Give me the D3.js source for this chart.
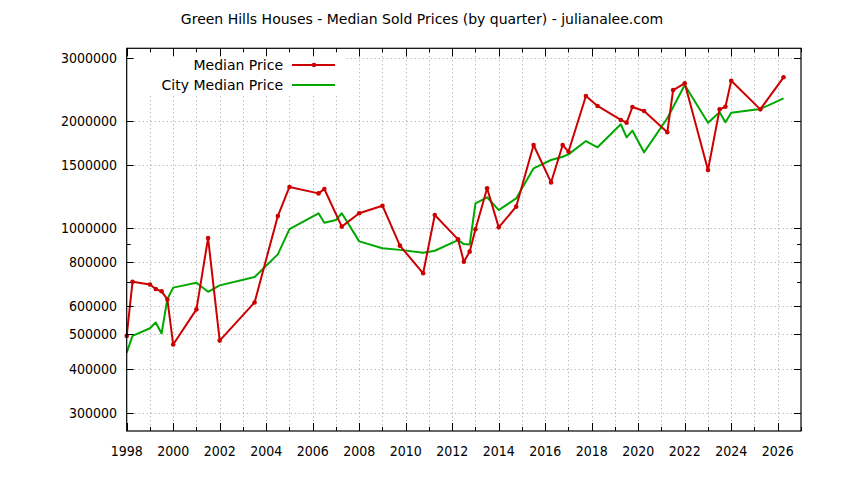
<!DOCTYPE html>
<html>
<head>
<meta charset="utf-8">
<script src="https://cdn.jsdelivr.net/npm/d3@7"></script>
<style>
  body { margin: 0; background: #fff; }
  svg { display: block; font-family: "DejaVu Sans", sans-serif; }
</style>
</head>
<body>
<svg id="chart" width="844" height="480"></svg>
<script>
  var titleText = 'Green Hills Houses - Median Sold Prices (by quarter) - julianalee.com';
  var seriesNames = ['Median Price', 'City Median Price'];

  // quarters as fractional years
  var redDates = [1998, 1998.25, 1999, 1999.25, 1999.5, 1999.75, 2000, 2001, 2001.5, 2002,
    2003.5, 2004.5, 2005, 2006.25, 2006.5, 2007.25, 2008, 2009, 2009.75, 2010.75, 2011.25,
    2012.25, 2012.5, 2012.75, 2013, 2013.5, 2014, 2014.75, 2015.5, 2016.25, 2016.75, 2017,
    2017.75, 2018.25, 2019.25, 2019.5, 2019.75, 2020.25, 2021.25, 2021.5, 2022, 2023,
    2023.5, 2023.75, 2024, 2025.25, 2026.25];
  var redValues = [495000, 703000, 691000, 671000, 661000, 627000, 468000, 588000, 934000, 480000,
    615000, 1077000, 1301000, 1248000, 1284000, 1006000, 1097000, 1152000, 889000, 743000, 1085000,
    926000, 801000, 855000, 989000, 1290000, 1001000, 1145000, 1708000, 1340000, 1708000, 1636000,
    2348000, 2201000, 2010000, 1975000, 2186000, 2130000, 1855000, 2441000, 2550000, 1452000,
    2153000, 2190000, 2593000, 2153000, 2651000];

  var greenDates = [1998, 1998.25, 1999, 1999.25, 1999.5, 1999.75, 2000, 2001, 2001.5, 2002,
    2003.5, 2004.5, 2005, 2006.25, 2006.5, 2007, 2007.25, 2008, 2009, 2009.75, 2010.75, 2011.25,
    2012.25, 2012.5, 2012.75, 2013, 2013.5, 2014, 2014.75, 2015.5, 2016.25, 2016.75, 2017,
    2017.75, 2018.25, 2019.25, 2019.5, 2019.75, 2020.25, 2021.25, 2022, 2023, 2023.5, 2023.75,
    2024, 2025.25, 2026.25];
  var greenValues = [444000, 495000, 520000, 540000, 503000, 629000, 677000, 699000, 659000, 687000,
    725000, 840000, 990000, 1097000, 1032000, 1050000, 1097000, 914000, 874000, 865000, 849000, 860000,
    922000, 898000, 895000, 1170000, 1217000, 1120000, 1208000, 1468000, 1550000, 1583000, 1608000,
    1753000, 1683000, 1955000, 1796000, 1875000, 1629000, 2032000, 2521000, 1975000, 2112000, 1980000,
    2107000, 2158000, 2312000];

  var yTickValues = [300000, 400000, 500000, 600000, 800000, 1000000, 1500000, 2000000, 3000000];
  var yMinorValues = [700000, 900000];
  var xLabelYears = [1998, 2000, 2002, 2004, 2006, 2008, 2010, 2012, 2014, 2016, 2018, 2020, 2022, 2024, 2026];

  (function() {
    var svg = d3.select('#chart');
    var left = 126.7, right = 801, top = 48.3, bottom = 431;
    var red = '#cc0000', green = '#00a800', gridColor = '#a0a0a0';

    var x = d3.scaleLinear().domain([1998, 2027]).range([left, right]);
    var y = d3.scaleLog().domain([267000, 3200000]).range([bottom, top]);

    var allYears = d3.range(1998, 2028);
    var redData = redDates.map(function(d, i) { return { t: d, v: redValues[i] }; });
    var greenData = greenDates.map(function(d, i) { return { t: d, v: greenValues[i] }; });

    // title
    svg.append('text')
      .attr('x', 422).attr('y', 24)
      .attr('text-anchor', 'middle')
      .attr('font-size', 14).attr('fill', '#000')
      .text(titleText);

    // grid
    var grid = svg.append('g').attr('stroke', gridColor).attr('stroke-width', 1)
      .attr('stroke-dasharray', '1,3');
    grid.selectAll('line.gx').data(allYears.slice(1, -1)).enter().append('line')
      .attr('x1', function(d) { return Math.round(x(d)) + 0.5; })
      .attr('x2', function(d) { return Math.round(x(d)) + 0.5; })
      .attr('y1', top).attr('y2', bottom);
    grid.selectAll('line.gy').data(yTickValues).enter().append('line')
      .attr('y1', function(d) { return Math.round(y(d)) + 0.5; })
      .attr('y2', function(d) { return Math.round(y(d)) + 0.5; })
      .attr('x1', left).attr('x2', right);

    // opaque key box
    svg.append('rect').attr('x', left + 1).attr('y', top + 1)
      .attr('width', 218).attr('height', 46).attr('fill', '#fff');

    // series
    var line = d3.line().x(function(d) { return x(d.t); }).y(function(d) { return y(d.v); });
    svg.append('path').datum(greenData).attr('d', line)
      .attr('fill', 'none').attr('stroke', green).attr('stroke-width', 2).attr('stroke-linejoin', 'round');
    svg.append('path').datum(redData).attr('d', line)
      .attr('fill', 'none').attr('stroke', red).attr('stroke-width', 2).attr('stroke-linejoin', 'round');
    svg.selectAll('circle.pt').data(redData).enter().append('circle')
      .attr('cx', function(d) { return x(d.t); })
      .attr('cy', function(d) { return y(d.v); })
      .attr('r', 2.3).attr('fill', red);

    // axes, gnuplot style: inward ticks on all four sides
    var xBottom = d3.axisBottom(x).tickValues(allYears).tickSize(0).tickFormat('');
    var ax = svg.append('g');
    ax.selectAll('line.xt').data(allYears).enter().append('line')
      .attr('x1', function(d) { return Math.round(x(d)) + 0.5; })
      .attr('x2', function(d) { return Math.round(x(d)) + 0.5; })
      .attr('y1', bottom)
      .attr('y2', function(d) { return bottom - (d % 2 === 0 ? 8 : 4); })
      .attr('stroke', '#000');
    ax.selectAll('line.xtt').data(allYears).enter().append('line')
      .attr('x1', function(d) { return Math.round(x(d)) + 0.5; })
      .attr('x2', function(d) { return Math.round(x(d)) + 0.5; })
      .attr('y1', top)
      .attr('y2', function(d) { return top + (d % 2 === 0 ? 8 : 4); })
      .attr('stroke', '#000');

    var yTicks = yTickValues.map(function(v) { return { v: v, len: 7 }; })
      .concat(yMinorValues.map(function(v) { return { v: v, len: 4 }; }));
    ax.selectAll('line.yt').data(yTicks).enter().append('line')
      .attr('y1', function(d) { return Math.round(y(d.v)) + 0.5; })
      .attr('y2', function(d) { return Math.round(y(d.v)) + 0.5; })
      .attr('x1', left).attr('x2', function(d) { return left + d.len; })
      .attr('stroke', '#000');
    ax.selectAll('line.ytr').data(yTicks).enter().append('line')
      .attr('y1', function(d) { return Math.round(y(d.v)) + 0.5; })
      .attr('y2', function(d) { return Math.round(y(d.v)) + 0.5; })
      .attr('x1', right).attr('x2', function(d) { return right - d.len; })
      .attr('stroke', '#000');

    svg.append('rect').attr('x', left).attr('y', top)
      .attr('width', right - left).attr('height', bottom - top)
      .attr('fill', 'none').attr('stroke', '#000').attr('stroke-width', 1.2);

    // tick labels
    svg.append('g').attr('transform', 'translate(0,' + bottom + ')').call(xBottom).select('.domain').remove();
    svg.selectAll('text.xl').data(xLabelYears).enter().append('text')
      .attr('x', function(d) { return x(d); }).attr('y', 456)
      .attr('text-anchor', 'middle').attr('font-size', 14)
      .attr('font-family', '"DejaVu Sans Condensed", "DejaVu Sans", sans-serif')
      .text(function(d) { return d; });
    svg.selectAll('text.yl').data(yTickValues).enter().append('text')
      .attr('x', 117).attr('y', function(d) { return y(d); })
      .attr('dy', '0.36em')
      .attr('text-anchor', 'end').attr('font-size', 14)
      .attr('font-family', '"DejaVu Sans Condensed", "DejaVu Sans", sans-serif')
      .text(function(d) { return d; });

    // key
    var keyRows = [
      { name: seriesNames[0], color: red, y: 65, marker: true },
      { name: seriesNames[1], color: green, y: 85, marker: false }
    ];
    var key = svg.selectAll('g.key').data(keyRows).enter().append('g');
    key.append('text').attr('x', 283).attr('y', function(d) { return d.y; })
      .attr('dy', '0.36em').attr('text-anchor', 'end').attr('font-size', 14)
      .text(function(d) { return d.name; });
    key.append('line').attr('x1', 292).attr('x2', 335)
      .attr('y1', function(d) { return d.y; }).attr('y2', function(d) { return d.y; })
      .attr('stroke', function(d) { return d.color; }).attr('stroke-width', 2);
    key.filter(function(d) { return d.marker; }).append('circle')
      .attr('cx', 314).attr('cy', function(d) { return d.y; })
      .attr('r', 2.3).attr('fill', function(d) { return d.color; });
  })();
</script>
</body>
</html>
